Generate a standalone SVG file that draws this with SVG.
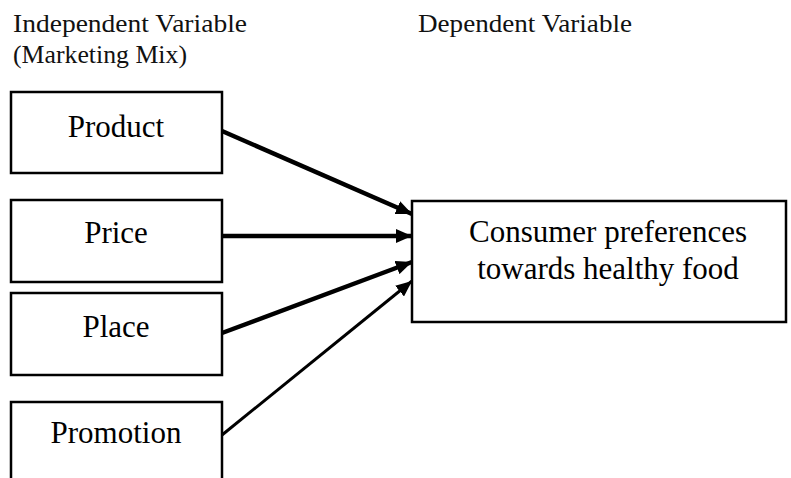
<svg xmlns="http://www.w3.org/2000/svg" width="791" height="478" viewBox="0 0 791 478">
<style>
.box{fill:#fff;stroke:#000;stroke-width:2.5}
.lbl{font-family:"Liberation Serif","Times New Roman",serif;font-size:31px;fill:#000;text-anchor:middle}
.hdr{font-family:"Liberation Serif","Times New Roman",serif;font-size:26px;fill:#111}
.thick{stroke:#000;stroke-width:4.5;fill:none}
.thin{stroke:#000;stroke-width:3;fill:none}
</style>
<defs>
<marker id="ah" markerUnits="userSpaceOnUse" markerWidth="16" markerHeight="14" refX="16" refY="7" orient="auto">
<path d="M0,0 L16,7 L0,14 Z" fill="#000"/>
</marker>
</defs>
<g id="headers">
<text class="hdr" x="13" y="32" textLength="234" lengthAdjust="spacingAndGlyphs">Independent Variable</text>
<text class="hdr" x="13" y="63" textLength="174" lengthAdjust="spacingAndGlyphs">(Marketing Mix)</text>
<text class="hdr" x="418" y="32" textLength="214" lengthAdjust="spacingAndGlyphs">Dependent Variable</text>
</g>
<g id="product">
<rect class="box" x="11" y="92" width="211" height="81"/>
<text class="lbl" x="116" y="137">Product</text>
</g>
<g id="price">
<rect class="box" x="11" y="200" width="211" height="82"/>
<text class="lbl" x="116" y="243">Price</text>
</g>
<g id="place">
<rect class="box" x="11" y="293" width="211" height="82"/>
<text class="lbl" x="116" y="337">Place</text>
</g>
<g id="promotion">
<path class="box" d="M11,480 V402 H222 V480"/>
<text class="lbl" x="116" y="443">Promotion</text>
</g>
<g id="consumer">
<rect class="box" x="412" y="201" width="374" height="121"/>
<text class="lbl" x="608" y="242">Consumer preferences</text>
<text class="lbl" x="608" y="279">towards healthy food</text>
</g>
<g id="connectors">
<line class="thick" x1="222" y1="131" x2="412" y2="214" marker-end="url(#ah)"/>
<line class="thick" x1="222" y1="236" x2="412" y2="236" marker-end="url(#ah)"/>
<line class="thick" x1="222" y1="333" x2="412" y2="262" marker-end="url(#ah)"/>
<line class="thin" x1="222" y1="435" x2="412" y2="281" marker-end="url(#ah)"/>
</g>
</svg>
